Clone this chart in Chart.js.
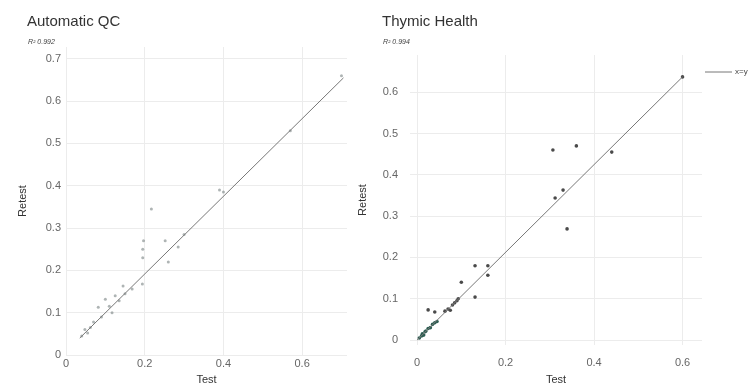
<!DOCTYPE html>
<html>
<head>
<meta charset="utf-8">
<script src="https://cdn.jsdelivr.net/npm/chart.js@4"></script>
<style>
  body { margin: 0; background: #fff; }
  canvas { position: absolute; top: 0; }
  #qc { left: 0; }
  #thymic { left: 355px; }
</style>
</head>
<body>
<canvas id="qc" width="355" height="387"></canvas>
<canvas id="thymic" width="395" height="387"></canvas>
<script>
// Automatic QC: test vs retest
const qcTest = [0.04, 0.048, 0.055, 0.062, 0.07, 0.082, 0.09, 0.10, 0.11, 0.117, 0.125, 0.135, 0.145, 0.15, 0.168, 0.194, 0.195, 0.195, 0.197, 0.217, 0.252, 0.26, 0.285, 0.30, 0.39, 0.40, 0.57, 0.70];
const qcRetest = [0.045, 0.06, 0.052, 0.065, 0.078, 0.113, 0.09, 0.132, 0.115, 0.10, 0.14, 0.128, 0.163, 0.145, 0.156, 0.168, 0.23, 0.25, 0.27, 0.345, 0.27, 0.22, 0.255, 0.285, 0.39, 0.385, 0.53, 0.66];
const qcFitX = [0.035, 0.705];
const qcFitY = [0.04, 0.655];

// Thymic Health: test vs retest
const thTest = [0.005, 0.01, 0.012, 0.015, 0.018, 0.02, 0.025, 0.03, 0.035, 0.04, 0.045, 0.025, 0.04, 0.063, 0.07, 0.075, 0.08, 0.085, 0.09, 0.093, 0.10, 0.131, 0.131, 0.16, 0.16, 0.307, 0.312, 0.33, 0.339, 0.36, 0.44, 0.60];
const thRetest = [0.005, 0.01, 0.015, 0.012, 0.02, 0.022, 0.028, 0.03, 0.038, 0.042, 0.045, 0.073, 0.068, 0.07, 0.075, 0.072, 0.085, 0.09, 0.095, 0.1, 0.14, 0.18, 0.104, 0.18, 0.157, 0.46, 0.344, 0.363, 0.269, 0.47, 0.455, 0.637];
const thFitX = [0, 0.60];
const thFitY = [0, 0.637];

const xTickStep = 0.2;
const yTickStep = 0.1;

const FONT = "'Liberation Sans', Arial, sans-serif";

function toPoints(xs, ys) {
  return xs.map((x, i) => ({ x: x, y: ys[i] }));
}

// titles, subtitle and the small legend are drawn at fixed spots
function headerPlugin(title, subtitle, legendText) {
  return {
    id: "header",
    afterDraw(chart) {
      const c = chart.ctx;
      c.save();
      c.fillStyle = "#333";
      c.textBaseline = "alphabetic";
      c.font = "15px " + FONT;
      c.fillText(title, 27, 26);
      c.font = "italic 7px " + FONT;
      c.fillStyle = "#444";
      c.fillText(subtitle, 28, 44);
      if (legendText) {
        c.strokeStyle = "#777";
        c.lineWidth = 1;
        c.beginPath();
        c.moveTo(350, 72);
        c.lineTo(377, 72);
        c.stroke();
        c.font = "8px " + FONT;
        c.fillStyle = "#444";
        c.textBaseline = "middle";
        c.fillText(legendText, 380, 72);
      }
      c.restore();
    },
  };
}

function makeScales(opts) {
  const tickFont = { family: FONT, size: 11 };
  const titleFont = { family: FONT, size: 11 };
  return {
    x: {
      type: "linear",
      min: opts.xMin,
      max: opts.xMax,
      ticks: {
        stepSize: xTickStep,
        includeBounds: false,
        color: "#666",
        font: tickFont,
        padding: opts.xPad,
        maxRotation: 0,
        callback: (v) => (Math.round(v * 10) / 10).toString(),
      },
      grid: { color: "#ececec", drawTicks: false },
      border: { display: false },
      title: { display: true, text: "Test", color: "#333", font: titleFont, padding: { top: 0, bottom: 0 } },
      afterFit(s) { s.height = opts.xHeight; },
    },
    y: {
      type: "linear",
      min: opts.yMin,
      max: opts.yMax,
      ticks: {
        stepSize: yTickStep,
        includeBounds: false,
        color: "#666",
        font: tickFont,
        padding: opts.yPad,
        callback: (v) => (Math.round(v * 10) / 10).toString(),
      },
      grid: { color: "#ececec", drawTicks: false },
      border: { display: false },
      title: { display: true, text: "Retest", color: "#333", font: titleFont, padding: { top: opts.yTitlePad, bottom: 0 } },
      afterFit(s) { s.width = opts.yWidth; },
    },
  };
}

new Chart(document.getElementById("qc"), {
  type: "scatter",
  data: {
    datasets: [
      {
        type: "line",
        data: toPoints(qcFitX, qcFitY),
        borderColor: "#777",
        borderWidth: 1,
        pointRadius: 0,
      },
      {
        data: toPoints(qcTest, qcRetest),
        pointRadius: 1.5,
        borderWidth: 0,
        backgroundColor: "rgba(120,130,130,0.6)",
      },
    ],
  },
  options: {
    responsive: false,
    animation: false,
    layout: { padding: { top: 47, right: 8, bottom: 0, left: 0 } },
    plugins: { legend: { display: false }, tooltip: { enabled: false } },
    scales: makeScales({
      xMin: 0, xMax: 0.714, yMin: 0, yMax: 0.728,
      xHeight: 32, yWidth: 66, xPad: 2, yPad: 5, yTitlePad: 16,
    }),
  },
  plugins: [headerPlugin("Automatic QC", "R\u00b2 0.992", null)],
});

new Chart(document.getElementById("thymic"), {
  type: "scatter",
  data: {
    datasets: [
      {
        type: "line",
        data: toPoints(thFitX, thFitY),
        borderColor: "#777",
        borderWidth: 1,
        pointRadius: 0,
      },
      {
        data: toPoints(thTest, thRetest),
        pointRadius: 1.8,
        borderWidth: 0,
        backgroundColor: (ctx) => {
          const p = ctx.raw;
          return p && p.x < 0.05 && p.y < 0.05 ? "#2d5e52" : "#4a4a4a";
        },
      },
    ],
  },
  options: {
    responsive: false,
    animation: false,
    layout: { padding: { top: 55, right: 48, bottom: 0, left: 0 } },
    plugins: { legend: { display: false }, tooltip: { enabled: false } },
    scales: makeScales({
      xMin: -0.016, xMax: 0.644, yMin: -0.012, yMax: 0.69,
      xHeight: 42, yWidth: 55, xPad: 11, yPad: 12, yTitlePad: 1.5,
    }),
  },
  plugins: [headerPlugin("Thymic Health", "R\u00b2 0.994", "x=y")],
});
</script>
</body>
</html>
